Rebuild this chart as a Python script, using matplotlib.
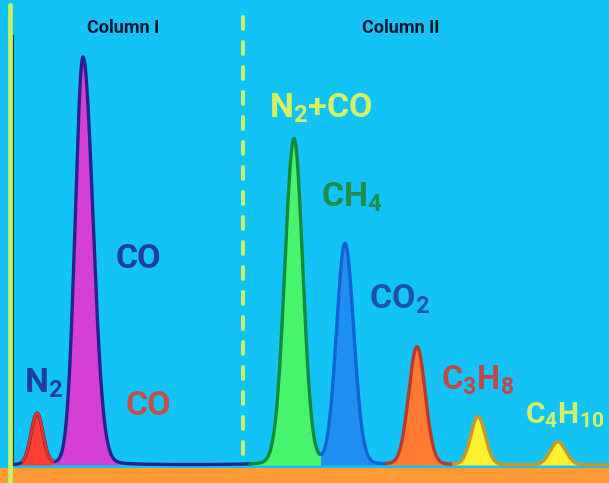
import numpy as np
import matplotlib
matplotlib.use("Agg")
import matplotlib.pyplot as plt

# ---------------- data ----------------
peak_names = ["N2", "CO", "N2+CO", "CH4", "CO2", "C3H8", "C4H10"]
retention = [37, 83, 294, 345, 417, 478, 558]        # x position of apex
heights = [51, 408, 326, 221, 118, 48, 23]            # apex height above baseline
sigma_left = [6.0, 7.8, 9.2, 8.5, 8.3, 7.3, 7.8]
sigma_right = [6.0, 10.0, 8.8, 8.8, 8.3, 7.3, 7.8]
fill_colors = ["#FF3D33", "#D43FD6", "#47F46C", "#1E8FF0", "#FF7A30", "#FFF02E", "#FFF02E"]
edge_colors = ["#E23226", "#25238E", "#138A3C", "#1162D6", "#B83A2C", "#C9962C", "#C9962C"]

label_texts = ["Column I", "Column II", r"N$_2$+CO", "CO", r"N$_2$", "CO",
               r"CH$_4$", r"CO$_2$", r"C$_3$H$_8$", r"C$_4$H$_{10}$"]
label_x = [123, 401, 269, 116, 24, 126, 321, 369, 441, 525]
label_base = [33, 33, 118, 268, 393, 415, 207, 309, 390, 423]  # baseline (pixel rows)
label_sizes = [13, 13, 24.5, 24.5, 24.5, 24.5, 24.5, 24.5, 23.5, 21.5]
label_colors = ["#081830", "#081830", "#D6F063", "#1C3FA0", "#1C3FA0", "#C24F4A",
                "#1E8C4A", "#1A55A8", "#C0474A", "#D6F063"]
label_ha = ["center", "center", "left", "left", "left", "left", "left", "left", "left", "left"]

# ---------------- style ----------------
plt.rcParams["font.family"] = ["Roboto", "DejaVu Sans"]
plt.rcParams["mathtext.fontset"] = "custom"
plt.rcParams["mathtext.rm"] = "Roboto:bold"
plt.rcParams["mathtext.it"] = "Roboto:bold"
plt.rcParams["mathtext.bf"] = "Roboto:bold"
plt.rcParams["lines.scale_dashes"] = False

W, H = 609, 483
BASE = 465  # pixel row of baseline
bg = "#14C3F5"
ETA = 0.05  # lorentzian share of the peak shape

fig = plt.figure(figsize=(W / 100, H / 100), dpi=100)
fig.patch.set_facecolor(bg)
ax = fig.add_axes([0, 0, 1, 1])
ax.set_facecolor(bg)
ax.set_xlim(0, W)
ax.set_ylim(BASE - H, BASE)  # y = signal above baseline
ax.axis("off")

def py(p):
    """pixel row -> data y"""
    return BASE - p

x = np.linspace(13, W, 4000)
comps = []
for c, h, sl, sr in zip(retention, heights, sigma_left, sigma_right):
    s = np.where(x < c, sl, sr)
    u = (x - c) / s
    g = np.exp(-0.5 * u ** 2)
    lor = 1.0 / (1.0 + (u / 1.1774) ** 2)
    comps.append(h * ((1 - ETA) * g + ETA * lor))
comps = np.array(comps)
total = comps.sum(axis=0)
dom = comps.argmax(axis=0)

# orange band at the bottom
ax.axhspan(BASE - H, py(467.5), color="#FF9A36", zorder=1, lw=0)

# fills per peak (region where the peak dominates)
for i in range(len(retention)):
    m = dom == i
    ax.fill_between(x, 0, total, where=m, color=fill_colors[i], lw=0, zorder=2,
                    interpolate=True)

# trace outlines
col1 = x < 252
ax.plot(x[col1], total[col1], color="#25238E", lw=2.4, zorder=4,
        solid_capstyle="round")
n2 = (dom == 0) & (total > 3.5)
ax.plot(x[n2], total[n2], color=edge_colors[0], lw=2.0, zorder=4)
for i in range(2, len(retention)):
    m = (dom == i) & (x >= 250)
    idx = np.where(m)[0]
    if len(idx):
        sl = slice(max(idx[0] - 1, 0), idx[-1] + 2)
        ax.plot(x[sl], total[sl], color=edge_colors[i], lw=2.4, zorder=4,
                solid_capstyle="round")

# left vertical line
ax.plot([10, 10], [py(5), py(483)], color="#C6F26A", lw=3.4, zorder=5,
        solid_capstyle="round")
ax.plot([12.8, 12.8], [py(35), py(465)], color="#2B3F3A", lw=0.8, zorder=5)

# dashed separator
ax.plot([243, 243], [py(17), py(456)], color="#C6F06E", lw=2.9, zorder=3,
        dashes=(8.6, 9.4), dash_capstyle="round")

# labels
for t, lx, lb, fs, c, ha in zip(label_texts, label_x, label_base, label_sizes,
                                label_colors, label_ha):
    ax.text(lx, py(lb), t, fontsize=fs, color=c, fontweight="bold", ha=ha,
            va="baseline", zorder=6)

fig.savefig("out.png", dpi=100, facecolor=bg)
